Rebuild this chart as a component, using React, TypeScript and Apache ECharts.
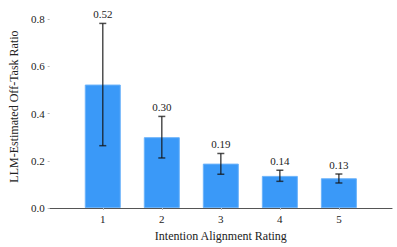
import React, { useEffect, useRef } from "react";
import * as echarts from "echarts";

const ratings = [1, 2, 3, 4, 5];
const means = [0.523, 0.3, 0.188, 0.136, 0.126];
const errLow = [0.264, 0.212, 0.143, 0.113, 0.106];
const errHigh = [0.782, 0.388, 0.231, 0.16, 0.144];
const yTicks = [0, 0.2, 0.4, 0.6, 0.8];

const FONT = "Liberation Serif";

export default function App() {
  const ref = useRef<HTMLDivElement>(null);
  useEffect(() => {
    if (!ref.current) return;
    const chart = echarts.init(ref.current, undefined, { renderer: "svg" });
    const barData = ratings.map((r, i) => [r, means[i]]);
    const errData = ratings.map((r, i) => [r, errLow[i], errHigh[i], means[i]]);
    chart.setOption({
      animation: false,
      textStyle: { fontFamily: FONT },
      grid: { left: 40, right: 5, top: 5, bottom: 39 },
      xAxis: {
        type: "value",
        min: 0.1,
        max: 5.9,
        name: "Intention Alignment Rating",
        nameLocation: "middle",
        nameGap: 22,
        nameTextStyle: { fontSize: 12, color: "#222", fontFamily: FONT },
        splitLine: { show: false },
        axisLine: { show: true, lineStyle: { color: "#555", width: 1.2 } },
        axisTick: { show: true, length: 2, customValues: ratings, lineStyle: { color: "#bbb" } },
        axisLabel: {
          customValues: ratings,
          fontSize: 11,
          color: "#222",
          margin: 5,
          fontFamily: FONT,
          formatter: (v: number) => String(Math.round(v)),
        },
      },
      yAxis: {
        type: "value",
        min: 0,
        max: 0.86,
        name: "LLM-Estimated Off-Task Ratio",
        nameLocation: "middle",
        nameGap: 23,
        nameTextStyle: { fontSize: 12, color: "#222", fontFamily: FONT },
        splitLine: { show: false },
        axisLine: { show: false },
        axisTick: { show: true, length: 2, customValues: yTicks, lineStyle: { color: "#bbb" } },
        axisLabel: {
          fontSize: 11,
          color: "#222",
          margin: 5,
          fontFamily: FONT,
          formatter: (v: number) => v.toFixed(1),
          customValues: yTicks,
        },
      },
      series: [
        {
          type: "bar",
          data: barData,
          barWidth: 36,
          itemStyle: { color: "#3a99f8", borderColor: "#6cb3fa", borderWidth: 1 },
        },
        {
          type: "custom",
          data: errData,
          clip: false,
          z: 5,
          renderItem: (params: any, api: any) => {
            const x = api.value(0);
            const lo = api.coord([x, api.value(1)]);
            const hi = api.coord([x, api.value(2)]);
            const cap = 3.5;
            const style = { stroke: "rgba(20,20,20,0.75)", lineWidth: 1.5 };
            return {
              type: "group",
              children: [
                { type: "line", shape: { x1: lo[0], y1: lo[1], x2: hi[0], y2: hi[1] }, style },
                { type: "line", shape: { x1: lo[0] - cap, y1: lo[1], x2: lo[0] + cap, y2: lo[1] }, style },
                { type: "line", shape: { x1: hi[0] - cap, y1: hi[1], x2: hi[0] + cap, y2: hi[1] }, style },
                {
                  type: "text",
                  x: hi[0],
                  y: hi[1] - 4,
                  style: {
                    text: Number(api.value(3)).toFixed(2),
                    fill: "#222",
                    fontSize: 11,
                    fontFamily: FONT,
                    align: "center",
                    verticalAlign: "bottom",
                  },
                },
              ],
            };
          },
        },
      ],
    });
    return () => chart.dispose();
  }, []);
  return (
    <div style={{ position: "absolute", left: 0, top: 0 }}>
      <div ref={ref} style={{ width: 397, height: 247 }} />
    </div>
  );
}
